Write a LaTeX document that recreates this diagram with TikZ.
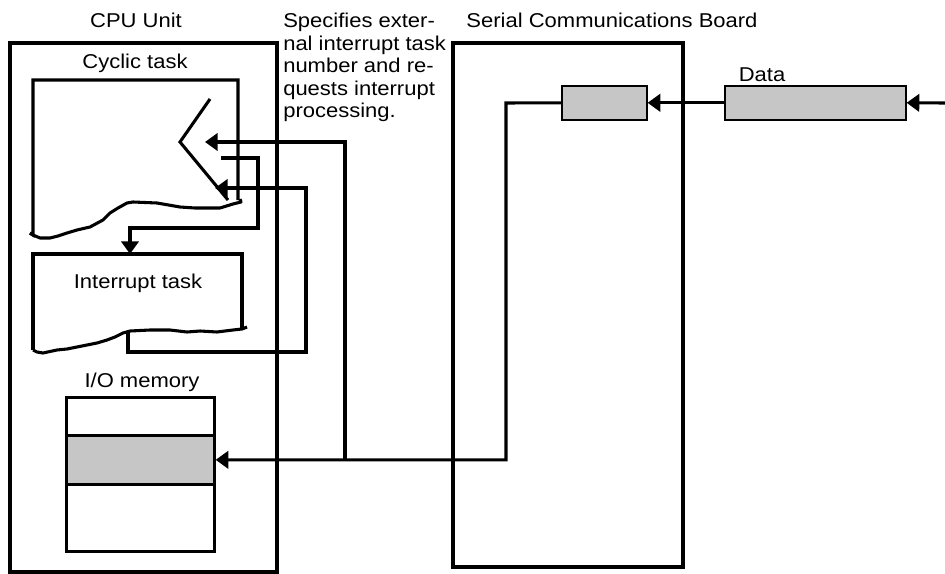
\documentclass[tikz,border=0pt]{standalone}
\usepackage{fontspec}
\setmainfont[FakeStretch=1.1]{Liberation Sans}
\usetikzlibrary{arrows.meta}
\begin{document}
\begin{tikzpicture}[x=0.75pt,y=-0.75pt,
  lw/.style={line width=2.3pt},
  lbl/.style={font=\fontsize{15}{16.9}\selectfont, inner sep=0pt},
  arr/.style={lw, -{Triangle[length=9.5pt,width=13pt]}},
  greybox/.style={draw, line width=1.2pt, fill=gray!45, inner sep=0pt, anchor=north west, minimum height=25.5pt},
  cell/.style={draw, line width=2pt, inner sep=0pt, anchor=north west, minimum width=111pt}]
\useasboundingbox (0,0) rectangle (945,574);

% Labels
\node[lbl] (cpulbl) at (136,20) {CPU Unit};
\node[lbl] (scblbl) at (612,20) {Serial Communications Board};
\node[lbl] (cyclbl) at (135,63) {Cyclic task};
\node[lbl] (intlbl) at (138,283) {Interrupt task};
\node[lbl] (memlbl) at (142,382) {I/O memory};
\node[lbl] (datalbl) at (762,75) {Data};
\node[lbl, anchor=north west, align=left] (spec) at (283,13) {Specifies exter-\\nal interrupt task\\number and re-\\quests interrupt\\processing.};

% Outer boxes
\draw[lw] (10,43) rectangle (277,572);
\draw[lw] (453,43) rectangle (683,567);

% Cyclic task (torn bottom)
\draw[lw] (30,233) -- (33,235) -- (33,80) -- (238,80) -- (238,200);
\draw[lw, line join=round] (240,199) -- (241,202) -- (233,204) -- (220,208) -- (210,208)
  -- (195,208) -- (180,207) -- (157,203) -- (133,202) -- (127,203) -- (118,208) -- (110,213)
  -- (103,220) -- (90,227) -- (77,230) -- (67,233) -- (58,236) -- (50,238) -- (40,238) -- (33,235) -- (30,233);

% Interrupt task (torn bottom)
\draw[lw] (33,350) -- (33,254) -- (242,254) -- (242,328);
\draw[lw, line join=round] (247,327) -- (242,329) -- (233,330) -- (217,332) -- (200,331) -- (187,332) -- (170,330)
  -- (150,330) -- (130,331) -- (123,333) -- (115,337) -- (107,340) -- (97,343) -- (87,345) -- (77,347)
  -- (67,349) -- (57,350) -- (43,353) -- (37,352) -- (33,350);

% Chevron in cyclic task
\draw[lw] (210,99) -- (180,142) -- (228,200);

% I/O memory
\node[cell, minimum height=28.5pt] (mtop) at (65,396) {};
\node[cell, minimum height=36.75pt, fill=gray!45] (mmid) at (65,434) {};
\node[cell, minimum height=50.25pt] (mbot) at (65,483) {};

% Grey boxes on the board
\node[greybox, minimum width=63.75pt] (buf) at (561,85) {};
\node[greybox, minimum width=135.75pt] (data) at (724,85) {};

% Coordinates
\coordinate (inR) at (945,103);
\coordinate (bufturn) at (506,103);
\coordinate (junc) at (345,460);
\coordinate (tipA) at (205,142);
\coordinate (tipB) at (215,188);
\coordinate (intbot) at (128,331);
\coordinate (cycout) at (221,158);
\coordinate (inttop) at (130,254);

% Connectors
\draw[arr] (inR) -- (data.east);
\draw[arr] (data.west) -- (buf.east);
\draw[arr] (buf.west) -- (bufturn) |- (mmid.east);
\draw[arr] (junc) |- (tipA);
\draw[arr] (intbot) -- (128,352) -- (306,352) |- (tipB);
\draw[arr] (cycout) -- (258,158) -- (258,228) -- (130,228) -- (inttop);
\end{tikzpicture}
\end{document}
